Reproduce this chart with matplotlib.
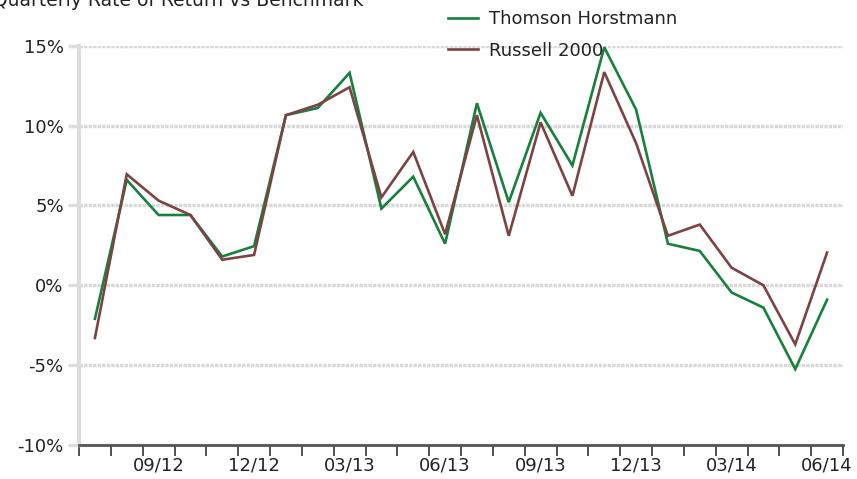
import matplotlib
matplotlib.use("Agg")
import matplotlib.pyplot as plt
import numpy as np

months = ["07/12","08/12","09/12","10/12","11/12","12/12","01/13","02/13","03/13",
          "04/13","05/13","06/13","07/13","08/13","09/13","10/13","11/13","12/13",
          "01/14","02/14","03/14","04/14","05/14","06/14"]
thomson = [-2.1, 6.6, 4.4, 4.4, 1.8, 2.45, 10.65, 11.1, 13.3, 4.8, 6.8, 2.6,
           11.4, 5.2, 10.8, 7.5, 14.9, 11.0, 2.6, 2.15, -0.45, -1.4, -5.25, -0.9]
russell = [-3.3, 6.95, 5.3, 4.4, 1.6, 1.9, 10.65, 11.3, 12.4, 5.5, 8.35, 3.2,
           10.65, 3.1, 10.2, 5.6, 13.35, 8.9, 3.1, 3.8, 1.1, 0.0, -3.7, 2.05]
label_months = ["09/12","12/12","03/13","06/13","09/13","12/13","03/14","06/14"]
yticks = [-10, -5, 0, 5, 10, 15]

fig = plt.figure(figsize=(8.57, 4.79), dpi=100)
ax = fig.add_axes([79/857, 1-445/479, (843-79)/857, (445-45.7)/479])

x = np.arange(len(months)) + 0.5
ax.plot(x, thomson, color="#17803d", lw=1.9, label="Thomson Horstmann", zorder=3, solid_joinstyle="miter")
ax.plot(x, russell, color="#7d4343", lw=1.9, label="Russell 2000", zorder=3, solid_joinstyle="miter")

ax.set_xlim(0, len(months))
ax.set_ylim(-10, 15)

ax.set_yticks(yticks)
ax.set_yticklabels([f"{v}%" for v in yticks], fontsize=13, color="#222222")
ax.tick_params(axis="y", length=8, width=2.5, color="#dddddd", pad=3)
ax.yaxis.grid(True, color="#d9d9d9", lw=2.5, ls=(0, (1, 0.3)))
ax.set_axisbelow(True)

ax.set_xticks(np.arange(0, len(months) + 1))
ax.set_xticklabels([])
ax.tick_params(axis="x", which="major", length=8, width=1.2, color="#333333", direction="out")
lab_pos = [months.index(m) + 0.5 for m in label_months]
ax.set_xticks(lab_pos, minor=True)
ax.set_xticklabels(label_months, minor=True, fontsize=13, color="#222222")
ax.tick_params(axis="x", which="minor", length=0, pad=8)

for s in ["top", "right"]:
    ax.spines[s].set_visible(False)
ax.spines["left"].set_color("#dddddd")
ax.spines["left"].set_linewidth(3)
ax.spines["bottom"].set_color("#555555")
ax.spines["bottom"].set_linewidth(2)

leg = fig.legend(loc="upper left", bbox_to_anchor=(441/857, 1 - 3/479), frameon=False,
                 fontsize=13, handlelength=1.65, labelspacing=0.75, handletextpad=0.6,
                 borderaxespad=0)
for t in leg.get_texts():
    t.set_color("#222222")

fig.text(-0.008, 1 - 6/479, "Quarterly Rate of Return vs Benchmark", fontsize=13.5,
         color="#222222", va="baseline", ha="left")

fig.savefig("out.png", dpi=100)
